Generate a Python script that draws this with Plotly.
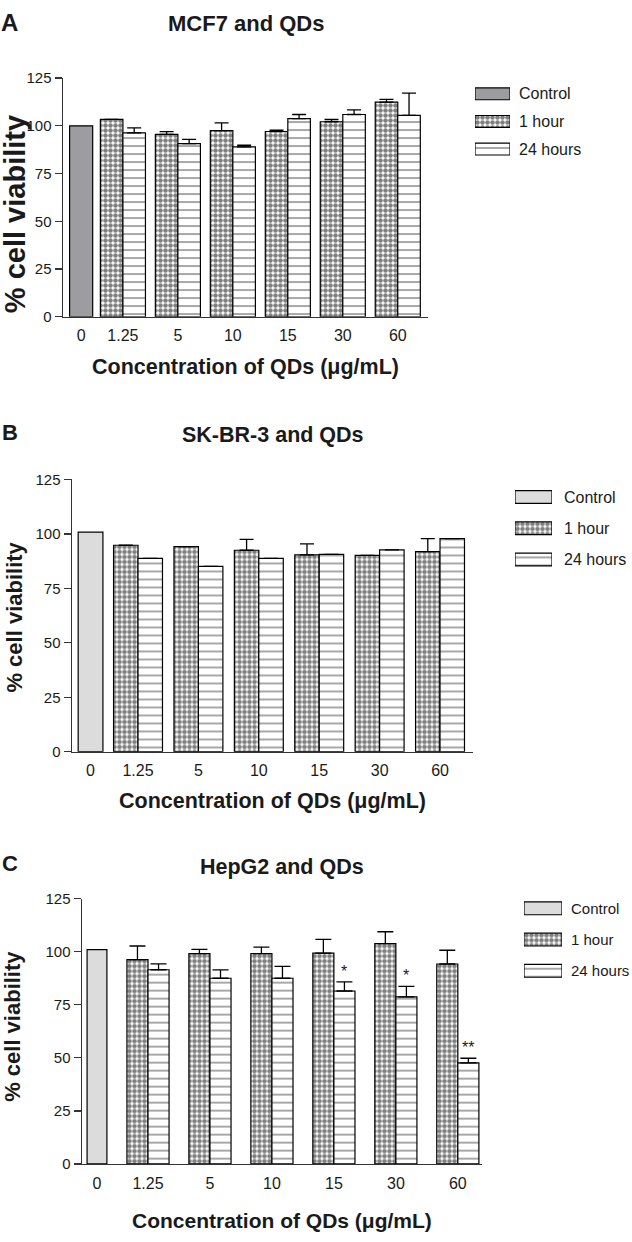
import plotly.graph_objects as go

W, H = 632, 1242

# ---------------- data ----------------
concentrations = ["1.25", "5", "10", "15", "30", "60"]
control_label = "0"
series_names = ["Control", "1 hour", "24 hours"]

# Panel A: MCF7
mcf7_control = 100.0
mcf7_1h = [103.4, 95.5, 97.5, 97.0, 102.1, 112.4]
mcf7_1h_err = [0.0, 1.4, 4.0, 0.7, 1.2, 1.4]
mcf7_24h = [96.3, 90.7, 88.9, 103.7, 105.9, 105.5]
mcf7_24h_err = [2.6, 2.2, 0.9, 2.2, 2.4, 11.6]

# Panel B: SK-BR-3
skbr3_control = 100.8
skbr3_1h = [94.8, 94.2, 92.5, 90.4, 90.1, 91.9]
skbr3_1h_err = [0.0, 0.0, 5.0, 5.0, 0.0, 5.9]
skbr3_24h = [88.8, 85.1, 88.8, 90.6, 92.7, 97.8]
skbr3_24h_err = [0.0, 0.0, 0.0, 0.0, 0.0, 0.0]

# Panel C: HepG2
hepg2_control = 101.0
hepg2_1h = [96.3, 99.1, 99.1, 99.3, 103.8, 94.2]
hepg2_1h_err = [6.4, 2.0, 3.1, 6.5, 5.6, 6.5]
hepg2_24h = [91.5, 87.5, 87.5, 81.5, 78.7, 47.6]
hepg2_24h_err = [2.8, 3.9, 5.6, 4.3, 5.0, 2.2]
hepg2_sig = ["", "", "", "*", "*", "**"]

y_ticks = [0, 25, 50, 75, 100, 125]

# ---------------- layout helpers ----------------
def pxx(p):
    return p / W

def pxy(p):
    return 1 - p / H

FONT = "Liberation Sans, Arial, Helvetica, sans-serif"
INK = "#1a1a1a"

CHECKER = dict(shape=".", fgcolor="black", bgcolor="white", size=5, solidity=0.65)
STRIPES = dict(shape="-", fgcolor="black", bgcolor="white", size=8, solidity=0.17)

panels = [
    dict(letter="A", title="MCF7 and QDs", control=mcf7_control,
         h1=mcf7_1h, h1e=mcf7_1h_err, h24=mcf7_24h, h24e=mcf7_24h_err, sig=None,
         left=63, right=428, ybot=312, ytop=70, xr=[-0.09, 6.55], ctrl=0.24,
         w=0.41, cw=0.42, ccol="#9d9da1", cap=7,
         letter_pos=(9, 14), letter_size=24, title_y=15, title_size=22,
         ytitle=(15, 208), ytitle_size=29, xtitle_y=363, xtitle_size=21.5,
         sw=(475, 510), leg_y=(72, 156), sw_frac=0.43, leg_text_x=517, leg_font=16),
    dict(letter="B", title="SK-BR-3 and QDs", control=skbr3_control,
         h1=skbr3_1h, h1e=skbr3_1h_err, h24=skbr3_24h, h24e=skbr3_24h_err, sig=None,
         left=72, right=473, ybot=753, ytop=477, xr=[-0.093, 6.546], ctrl=0.214,
         w=0.405, cw=0.41, ccol="#dcdcdc", cap=7,
         letter_pos=(10, 429), letter_size=22, title_y=432, title_size=21.5,
         ytitle=(15, 617), ytitle_size=22, xtitle_y=803, xtitle_size=21.5,
         sw=(515, 552), leg_y=(479, 574), sw_frac=0.41, leg_text_x=562, leg_font=16),
    dict(letter="C", title="HepG2 and QDs", control=hepg2_control,
         h1=hepg2_1h, h1e=hepg2_1h_err, h24=hepg2_24h, h24e=hepg2_24h_err, sig=hepg2_sig,
         left=82, right=482, ybot=1171, ytop=902, xr=[-0.065, 6.39], ctrl=0.177,
         w=0.34, cw=0.32, ccol="#dcdcdc", cap=8,
         letter_pos=(10, 866), letter_size=22, title_y=870, title_size=21.5,
         ytitle=(13, 1032), ytitle_size=22, xtitle_y=1228, xtitle_size=21,
         sw=(524, 562), leg_y=(896, 991), sw_frac=0.41, leg_text_x=569, leg_font=15),
]

fig = go.Figure()
annotations = []
layout = dict(
    width=W, height=H, margin=dict(l=0, r=0, t=0, b=0),
    paper_bgcolor="white", plot_bgcolor="white",
    barmode="overlay", showlegend=False,
    font=dict(family=FONT, color=INK),
)

npan = len(panels)
for k, p in enumerate(panels):
    n = k + 1
    xa = "x" if n == 1 else f"x{n}"
    ya = "y" if n == 1 else f"y{n}"
    idx = list(range(1, len(concentrations) + 1))
    w = p["w"]
    outline = dict(color="black", width=1.2)

    fig.add_trace(go.Bar(
        x=[p["ctrl"]], y=[p["control"]], width=p["cw"], offset=-p["cw"] / 2,
        name=series_names[0], xaxis=xa, yaxis=ya,
        marker=dict(color=p["ccol"], line=outline), hoverinfo="skip",
    ))
    fig.add_trace(go.Bar(
        x=idx, y=p["h1"], width=w, offset=-w,
        name=series_names[1], xaxis=xa, yaxis=ya,
        marker=dict(color="white", line=outline, pattern=CHECKER),
        error_y=dict(type="data", symmetric=False, array=p["h1e"],
                     arrayminus=[0] * len(idx), color="black",
                     thickness=1.3, width=p["cap"]),
        hoverinfo="skip",
    ))
    fig.add_trace(go.Bar(
        x=idx, y=p["h24"], width=w, offset=0,
        name=series_names[2], xaxis=xa, yaxis=ya,
        marker=dict(color="white", line=outline, pattern=STRIPES),
        error_y=dict(type="data", symmetric=False, array=p["h24e"],
                     arrayminus=[0] * len(idx), color="black",
                     thickness=1.3, width=p["cap"]),
        hoverinfo="skip",
    ))

    layout["xaxis" if n == 1 else f"xaxis{n}"] = dict(
        domain=[pxx(p["left"]), pxx(p["right"])], anchor=ya,
        range=p["xr"], tickvals=[p["ctrl"]] + idx,
        ticktext=[control_label] + concentrations,
        showline=True, linecolor="#333333", linewidth=1.5,
        showgrid=False, zeroline=False,
        ticks="outside", ticklen=4, tickcolor="rgba(0,0,0,0)",
        tickfont=dict(family=FONT, size=16, color=INK), fixedrange=True,
    )
    layout["yaxis" if n == 1 else f"yaxis{n}"] = dict(
        domain=[pxy(p["ybot"]), pxy(p["ytop"])], anchor=xa,
        range=[0, 125], tickvals=y_ticks,
        showline=True, linecolor="#333333", linewidth=1.5,
        showgrid=False, zeroline=False,
        ticks="outside", ticklen=7, tickwidth=1.3, tickcolor="#333333",
        tickfont=dict(family=FONT, size=15, color=INK), fixedrange=True,
    )

    # ---- legend drawn as a tiny horizontal-bar subplot ----
    m = n + npan
    lxa, lya = f"x{m}", f"y{m}"
    styles = [
        dict(color=p["ccol"], line=outline),
        dict(color="white", line=outline, pattern=CHECKER),
        dict(color="white", line=outline, pattern=STRIPES),
    ]
    for name, st in zip(series_names, styles):
        fig.add_trace(go.Bar(
            x=[1], y=[name], orientation="h", width=p["sw_frac"],
            xaxis=lxa, yaxis=lya, marker=st, cliponaxis=False,
            hoverinfo="skip", showlegend=False,
        ))
        annotations.append(dict(
            text=name, x=pxx(p["leg_text_x"]), y=name, xref="paper", yref=lya,
            xanchor="left", yanchor="middle", showarrow=False,
            font=dict(family=FONT, size=p["leg_font"], color=INK)))
    layout[f"xaxis{m}"] = dict(
        domain=[pxx(p["sw"][0]), pxx(p["sw"][1])], anchor=lya, range=[0, 1],
        visible=False, fixedrange=True)
    layout[f"yaxis{m}"] = dict(
        domain=[pxy(p["leg_y"][1]), pxy(p["leg_y"][0])], anchor=lxa,
        type="category", categoryorder="array", categoryarray=series_names,
        range=[len(series_names) - 0.5, -0.5], visible=False, fixedrange=True)

    cx = pxx((p["left"] + p["right"]) / 2)
    annotations += [
        dict(text=f"<b>{p['letter']}</b>", x=pxx(p["letter_pos"][0]), y=pxy(p["letter_pos"][1]),
             xref="paper", yref="paper", showarrow=False, xanchor="center", yanchor="middle",
             font=dict(family=FONT, size=p["letter_size"], color=INK)),
        dict(text=f"<b>{p['title']}</b>", x=cx, y=pxy(p["title_y"]),
             xref="paper", yref="paper", showarrow=False, xanchor="center", yanchor="middle",
             font=dict(family=FONT, size=p["title_size"], color=INK)),
        dict(text="<b>Concentration of QDs (μg/mL)</b>", x=cx, y=pxy(p["xtitle_y"]),
             xref="paper", yref="paper", showarrow=False, xanchor="center", yanchor="middle",
             font=dict(family=FONT, size=p["xtitle_size"], color=INK)),
        dict(text="<b>% cell viability</b>", x=pxx(p["ytitle"][0]), y=pxy(p["ytitle"][1]),
             xref="paper", yref="paper", showarrow=False, xanchor="center", yanchor="middle",
             textangle=-90, font=dict(family=FONT, size=p["ytitle_size"], color=INK)),
    ]
    if p["sig"]:
        for i, s in enumerate(p["sig"]):
            if s:
                annotations.append(dict(
                    text=s, x=idx[i] + w / 2, y=p["h24"][i] + p["h24e"][i],
                    xref=xa, yref=ya, showarrow=False, xanchor="center", yanchor="bottom",
                    yshift=0, font=dict(family=FONT, size=16, color=INK)))

layout["annotations"] = annotations
fig.update_layout(**layout)
fig.write_html(
    "out.html",
    config={"displayModeBar": False, "staticPlot": True},
    post_script="document.body.style.margin='0';document.body.style.overflow='hidden';",
)
